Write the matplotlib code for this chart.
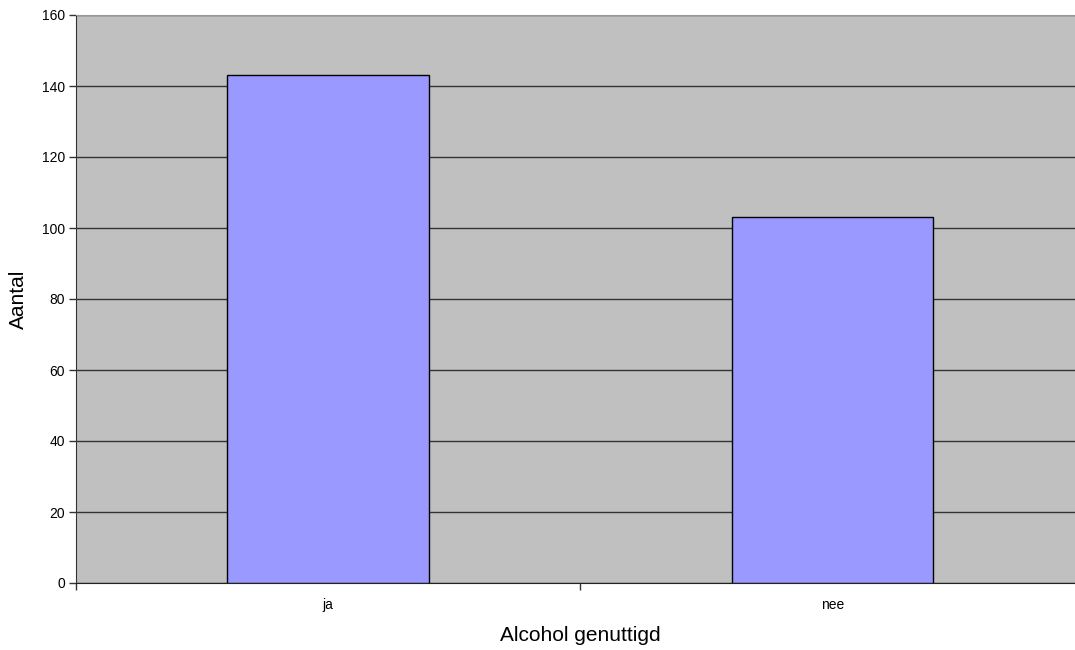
import matplotlib.pyplot as plt

categories = ['ja', 'nee']
counts = [143, 103]
y_ticks = [0, 20, 40, 60, 80, 100, 120, 140, 160]

plt.rcParams['font.family'] = ['Liberation Sans', 'DejaVu Sans']

fig = plt.figure(figsize=(10.75, 6.5), dpi=100)
ax = fig.add_axes([76 / 1075, 1 - 583 / 650, 1008.5 / 1075, 568 / 650])
ax.set_facecolor('#c0c0c0')

x = range(len(categories))
ax.bar(x, counts, width=0.4, color='#9999ff', edgecolor='black', linewidth=1, zorder=3)

ax.set_xlim(-0.5, len(categories) - 0.5)
ax.set_ylim(0, 160)
ax.set_yticks(y_ticks)
ax.yaxis.grid(True, color='#333333', linewidth=1, zorder=1)
ax.set_axisbelow(True)

# category labels at centres, ticks between categories
ax.set_xticks(list(x))
ax.set_xticklabels(categories, fontsize=10)
ax.tick_params(axis='x', length=0, pad=11)
ax.set_xticks([i + 0.5 for i in range(-1, len(categories))], minor=True)
ax.tick_params(axis='x', which='minor', length=5, width=1, color='#333333', direction='out')
ax.tick_params(axis='y', labelsize=10, length=5, width=1, color='#333333', pad=3)

ax.spines['left'].set_color('#333333')
ax.spines['bottom'].set_color('#222222')
ax.spines['top'].set_color('#999999')
ax.spines['right'].set_visible(False)

ax.set_xlabel('Alcohol genuttigd', fontsize=15, labelpad=10)
ax.set_ylabel('Aantal', fontsize=15, labelpad=10)

fig.savefig('out.png', dpi=100)
